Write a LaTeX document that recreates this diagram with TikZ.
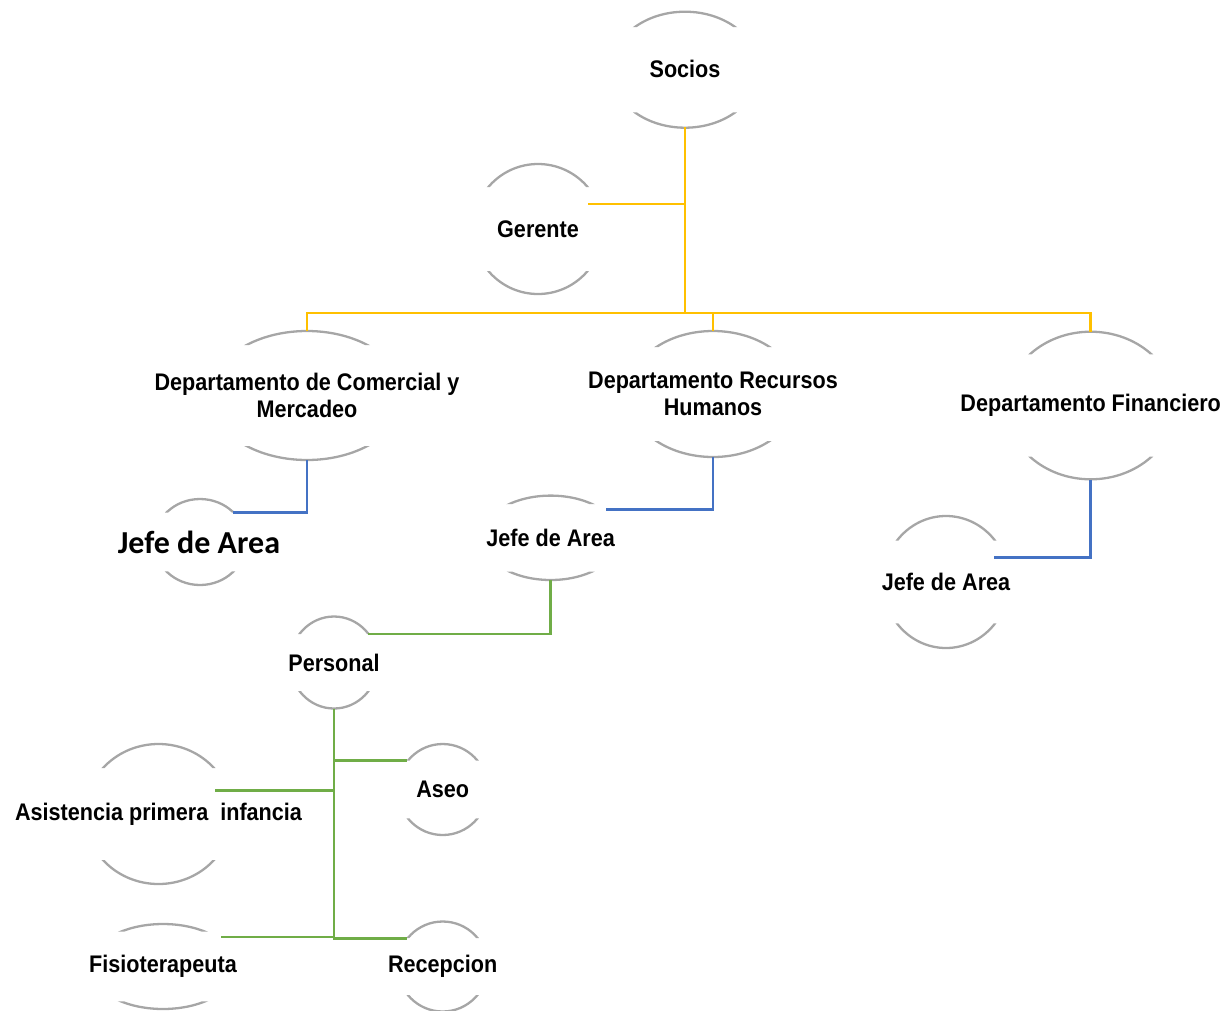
\documentclass[tikz,border=0pt]{standalone}
\usepackage{fontspec}
\usepackage{xcolor}
\usetikzlibrary{shapes.geometric}
\newfontfamily\orgfont[FakeStretch=0.9]{Liberation Sans}
\newfontfamily\jefefont{Carlito}
\definecolor{ringgrey}{HTML}{A6A6A6}
\definecolor{lvlgold}{HTML}{FFC000}
\definecolor{lvlblue}{HTML}{4472C4}
\definecolor{lvlgreen}{HTML}{70AD47}
% top and bottom arcs of an ellipse: cx, cy, rx, ry, half band
\newcommand{\halfarcs}[5]{%
  \begin{scope}
    \clip (#1-#3-4,#2-#4-4) rectangle (#1+#3+4,#2-#5) (#1-#3-4,#2+#5) rectangle (#1+#3+4,#2+#4+4);
    \draw[ringline] (#1,#2) ellipse [x radius=#3, y radius=#4];
  \end{scope}}

\begin{document}
\begin{tikzpicture}[x=1pt,y=-1pt,
  ringline/.style={ringgrey, line width=2.3pt},
  bubble/.style 2 args={ellipse, minimum width=#1, minimum height=#2, inner sep=0pt},
  lbl/.style={font=\orgfont\bfseries\fontsize{24}{27}\selectfont, align=center, inner sep=0pt},
  link/.style={line width=2.8pt}]
\useasboundingbox (0,0) rectangle (1231,1010);

% arcs
\halfarcs{685}{69.7}{74}{58}{42.7}
\halfarcs{538}{229}{65}{65}{42}
\halfarcs{307}{395.5}{97}{64.5}{50.5}
\halfarcs{713}{394}{85}{63}{47}
\halfarcs{1090.7}{405.5}{84.4}{73.8}{51.2}
\halfarcs{200}{542}{46}{43}{29.3}
\halfarcs{550.7}{537.8}{69}{42.2}{33.8}
\halfarcs{946}{582}{63}{66}{41.3}
\halfarcs{334}{662.5}{44}{46}{28.5}
\halfarcs{158.5}{814}{73.6}{70}{46}
\halfarcs{442.7}{789.5}{45}{45.5}{28.8}
\halfarcs{163}{966.5}{73.5}{42.5}{34.8}
\halfarcs{442.7}{966.5}{45}{45}{28.5}

% nodes
\node[bubble={148pt}{116pt}, label={[lbl]center:Socios}] (socios) at (685,69) {};
\node[bubble={130pt}{130pt}, label={[lbl]center:Gerente}] (gerente) at (538,229) {};
\node[bubble={194pt}{129pt}, label={[lbl]center:Departamento de Comercial y\\Mercadeo}] (comercial) at (307,395.5) {};
\node[bubble={170pt}{126pt}, label={[lbl]center:Departamento Recursos\\Humanos}] (rh) at (713,394) {};
\node[bubble={169pt}{147.6pt}, label={[lbl]center:Departamento Financiero}] (fin) at (1090.7,405.5) {};
\node[bubble={92pt}{86pt}, label={[lbl, font=\jefefont\bfseries\fontsize{32}{34}\selectfont]center:Jefe de Area}] (jefea) at (199,542) {};
\node[bubble={138pt}{84.4pt}, label={[lbl]center:Jefe de Area}] (jefeb) at (550.7,537.8) {};
\node[bubble={126pt}{132pt}, label={[lbl]center:Jefe de Area}] (jefec) at (946,582) {};
\node[bubble={88pt}{92pt}, label={[lbl]center:Personal}] (personal) at (334,662.5) {};
\node[bubble={147pt}{140pt}, label={[lbl]center:Asistencia primera\ \ infancia}] (asistencia) at (158.5,814) {};
\node[bubble={90pt}{91pt}, label={[lbl]center:Aseo}] (aseo) at (442.7,789.5) {};
\node[bubble={147pt}{85pt}, label={[lbl]center:Fisioterapeuta}] (fisio) at (163,966.5) {};
\node[bubble={90pt}{90pt}, label={[lbl]center:Recepcion}] (recepcion) at (442.7,966.5) {};

% first level
\coordinate (bus) at (685,313);
\coordinate (gjoin) at ([shift={(50,-25)}]gerente.center);
\draw[link, lvlgold] (socios.south) -- (bus);
\draw[link, lvlgold] (gjoin) -- (gjoin -| bus);
\draw[link, lvlgold] (bus) -| (comercial.north);
\draw[link, lvlgold] (bus) -| (rh.north);
\draw[link, lvlgold] (bus) -| (fin.north);

% second level
\draw[link, lvlblue] (comercial.south) |- ([shift={(34,-29.3)}]jefea.center);
\draw[link, lvlblue] (rh.south) |- ([shift={(55,-28.5)}]jefeb.center);
\draw[link, lvlblue] (fin.south) |- ([shift={(48,-24.7)}]jefec.center);

% third level
\draw[link, lvlgreen] (jefeb.south) |- ([shift={(34.3,-28.5)}]personal.center);
\draw[link, lvlgreen] (personal.south) |- ([shift={(-35.7,-28.8)}]aseo.center);
\draw[link, lvlgreen] (personal.south) |- ([shift={(-35.7,-28.2)}]recepcion.center);
\draw[link, lvlgreen] ([shift={(56.5,-23.3)}]asistencia.center) -| (personal.south);
\draw[link, lvlgreen] ([shift={(58,-29.5)}]fisio.center) -| (personal.south);
\end{tikzpicture}
\end{document}
